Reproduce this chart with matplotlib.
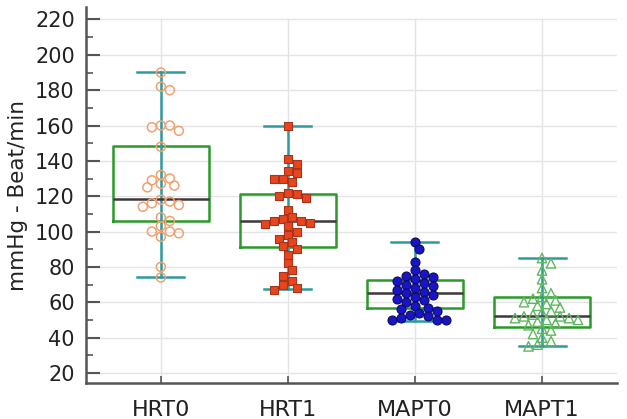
import numpy as np
import matplotlib
matplotlib.use("Agg")
import matplotlib.pyplot as plt
from matplotlib.ticker import MultipleLocator

plt.rcParams["font.family"] = ["DejaVu Sans"]

# ---- data ----
groups = ["HRT0", "HRT1", "MAPT0", "MAPT1"]

q1 = [106, 91.5, 56.5, 46]
med = [118.5, 106, 65, 52]
q3 = [148.5, 121, 72.5, 63]
whislo = [74, 67.5, 49.5, 35]
whishi = [190.5, 160, 94, 85]

hrt0 = [190, 182, 180, 160, 160, 159, 157, 148, 132, 130, 129, 127, 126, 125,
        118, 117, 116, 115, 114, 108, 106, 103, 100, 100, 99, 97, 80, 74]
hrt1 = [160, 141, 138, 134, 133, 130, 130, 128, 122, 121, 120, 119, 112, 108,
        107, 106, 106, 105, 104, 103, 100, 98, 96, 94, 92, 90, 87, 82, 78, 75,
        72, 70, 68, 67]
mapt0 = [94, 90, 83, 78, 76, 75, 74, 73, 72, 71, 70, 69, 68, 67, 66, 65, 64,
         63, 62, 61, 60, 58, 57, 56, 55, 54, 53, 52, 51, 50, 50, 50]
mapt1 = [85, 82, 78, 73, 68, 65, 63, 62, 61, 60, 59, 58, 57, 55, 54, 53, 52,
         52, 51, 51, 50, 50, 49, 48, 47, 45, 44, 42, 40, 38, 36, 35]
points = [hrt0, hrt1, mapt0, mapt1]

BOX_GREEN = "#2a9a2a"
TEAL = "#2f9a9e"
MEDIAN = "#3d383d"
GRID = "#e4e4e4"
AXIS = "#555555"
TXT = "#222222"

fig = plt.figure(figsize=(6.27, 4.19), dpi=100)
ax = fig.add_axes([0.137, 0.086, 0.847, 0.897])
ax.set_xlim(-0.59, 3.59)
ax.set_ylim(14.3, 227)

# grid, drawn by hand so the vertical lines stop at 220
for v in range(20, 221, 20):
    ax.axhline(v, color=GRID, lw=1.0, zorder=0)
top_frac = (220 - 14.3) / (227 - 14.3)
pos = np.arange(len(groups))
for p in pos:
    ax.axvline(p, ymin=0, ymax=top_frac, color=GRID, lw=1.0, zorder=0)

stats = [dict(label=g, q1=a, med=m, q3=b, whislo=lo, whishi=hi, fliers=[])
         for g, a, m, b, lo, hi in zip(groups, q1, med, q3, whislo, whishi)]
ax.vlines(pos, q1, q3, color=TEAL, lw=1.8, zorder=2)
ax.bxp(stats, positions=pos, widths=0.75, capwidths=0.37, showfliers=False,
       patch_artist=False, manage_ticks=False,
       boxprops=dict(color=BOX_GREEN, lw=1.8),
       medianprops=dict(color=MEDIAN, lw=1.8),
       whiskerprops=dict(color=TEAL, lw=1.8),
       capprops=dict(color=TEAL, lw=1.8),
       zorder=2)


def swarm(vals, center, diam):
    """simple beeswarm in pixel space"""
    trans = ax.transData
    placed = []
    xs = []
    for v in vals:
        cx, cy = trans.transform((center, v))
        k = 0
        while True:
            found = False
            for sgn in ([0] if k == 0 else [1, -1]):
                px = cx + sgn * k * diam * 0.5
                if all((px - qx) ** 2 + (cy - qy) ** 2 >= (diam * 0.85) ** 2
                       for qx, qy in placed):
                    placed.append((px, cy))
                    xs.append(trans.inverted().transform((px, cy))[0])
                    found = True
                    break
            if found:
                break
            k += 1
    return np.array(xs)


styles = [
    dict(marker="o", s=42, facecolors="none", edgecolors="#f2a070", linewidths=1.1),
    dict(marker="s", s=34, c="#e8451e", edgecolors="#a8341c", linewidths=0.8),
    dict(marker="o", s=42, c="#1a14c8", edgecolors="#0c0c5a", linewidths=0.8),
    dict(marker="^", s=46, facecolors="none", edgecolors="#5fb85f", linewidths=1.0),
]
for p, vals, st in zip(pos, points, styles):
    xs = swarm(vals, p, 9.0)
    ax.scatter(xs, vals, zorder=3, **st)

# axes styling
ax.spines["top"].set_visible(False)
ax.spines["right"].set_visible(False)
for s in ("left", "bottom"):
    ax.spines[s].set_color(AXIS)
    ax.spines[s].set_linewidth(1.8)

ax.set_yticks(range(20, 221, 20))
ax.yaxis.set_minor_locator(MultipleLocator(10))
ax.set_xticks(pos)
ax.set_xticklabels(groups)
ax.tick_params(axis="y", which="major", direction="in", length=10, width=1.5,
               color=AXIS, labelsize=15, labelcolor=TXT, pad=8)
ax.tick_params(axis="y", which="minor", direction="in", length=5, width=1.2,
               color=AXIS)
ax.tick_params(axis="x", direction="in", length=5, width=1.2, color=AXIS,
               labelsize=16, labelcolor=TXT, pad=12)
ax.set_ylabel("mmHg - Beat/min", fontsize=15.5, color=TXT, labelpad=5)

fig.savefig("out.png", dpi=100, facecolor="white")
